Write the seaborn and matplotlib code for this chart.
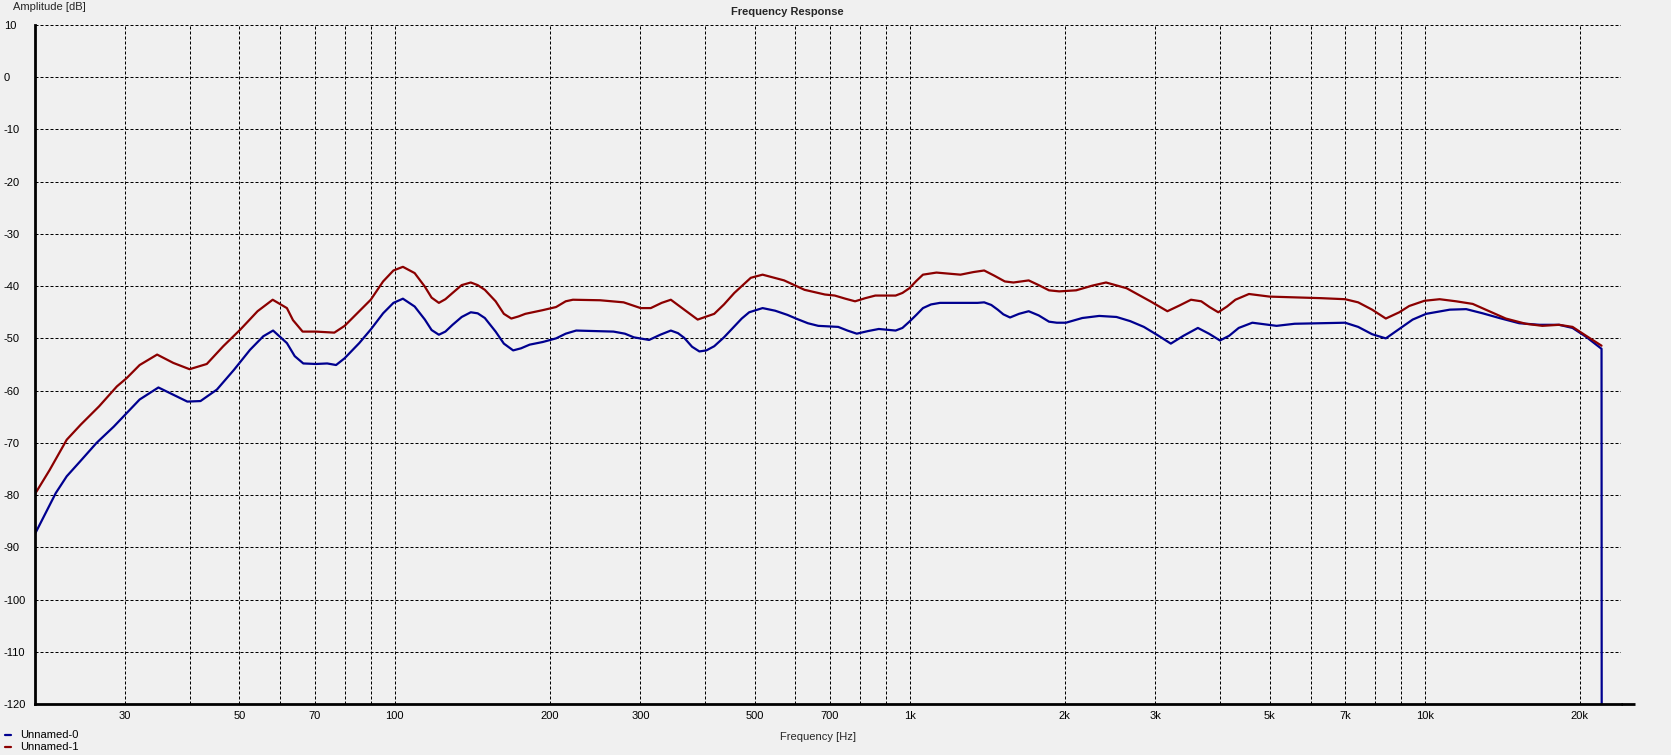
import numpy as np
import pandas as pd
import matplotlib
matplotlib.use("Agg")
import matplotlib.pyplot as plt
import seaborn as sns
from matplotlib.lines import Line2D
from matplotlib.ticker import FixedLocator, NullFormatter

# measured curve, Unnamed-0 (blue)
blue_freq = [20.1, 21.1, 22.0, 23.1, 24.5, 26.4, 28.5, 30.2, 32.0, 34.8, 37.2, 39.6, 42.0, 45.2,
             48.8, 52.4, 55.6, 58.1, 61.8, 64.0, 66.5, 70.4, 74.0, 77.0, 80.0, 85.4, 89.9, 95.0,
             99.5, 103.8, 109.4, 114.5, 118, 121.9, 125.5, 129.6, 135, 140.6, 145, 149.7, 157.1,
             163, 169.9, 176, 182.9, 193.8, 205.8, 214.9, 225.2, 245, 266.1, 280, 291.4, 311.9,
             328, 343.8, 355, 365.0, 378, 390.6, 403, 417.4, 436, 456.6, 472, 488.0, 518.1, 548,
             578.9, 605, 634.4, 664.5, 692.6, 726.3, 757, 789.3, 830, 870.9, 939, 968, 998.5,
             1030, 1061, 1100, 1145, 1250, 1354, 1395, 1440, 1482, 1520, 1566, 1630, 1702, 1780,
             1864, 1930, 2010, 2163, 2333, 2520, 2680, 2848, 3030, 3213, 3400, 3626, 3810, 4002,
             4170, 4352, 4625, 4880, 5154, 5587, 6290, 7003, 7423, 7900, 8400, 8921, 9470, 10060,
             11180, 12030, 12950, 13950, 15250, 16700, 18220, 19350, 20560, 22030, 22050]
blue_db = [-87.2, -83.1, -79.6, -76.4, -73.6, -70.0, -66.9, -64.3, -61.7, -59.4, -60.8, -62.1, -62.0, -59.8,
           -56.0, -52.2, -49.6, -48.5, -50.9, -53.4, -54.8, -54.9, -54.8, -55.1, -53.8, -50.9, -48.3, -45.2,
           -43.2, -42.4, -43.9, -46.4, -48.4, -49.3, -48.7, -47.4, -45.9, -45.0, -45.2, -46.1, -48.7,
           -51.0, -52.3, -51.9, -51.2, -50.7, -50.0, -49.1, -48.5, -48.6, -48.7, -49.1, -49.8, -50.3,
           -49.3, -48.5, -49.0, -49.9, -51.6, -52.5, -52.3, -51.5, -49.8, -47.7, -46.2, -45.0, -44.2, -44.7,
           -45.5, -46.3, -47.1, -47.6, -47.7, -47.8, -48.5, -49.1, -48.6, -48.2, -48.5, -48.0, -46.8,
           -45.5, -44.2, -43.5, -43.2, -43.2, -43.2, -43.1, -43.6, -44.5, -45.4, -46.0, -45.3, -44.8, -45.6,
           -46.8, -47.0, -47.0, -46.1, -45.7, -45.9, -46.7, -47.8, -49.4, -51.0, -49.5, -48.0, -49.1, -50.4,
           -49.5, -48.0, -47.0, -47.3, -47.6, -47.2, -47.1, -47.0, -47.8, -49.2, -50.0, -48.2, -46.4, -45.3,
           -44.5, -44.4, -45.2, -46.1, -47.1, -47.4, -47.4, -48.0, -49.7, -52.0, -140.0]

# measured curve, Unnamed-1 (red)
red_freq = [20.1, 21.4, 23.1, 24.6, 26.7, 28.9, 30.2, 32.0, 34.6, 37.2, 40.0, 43.2, 46.5, 50.2, 54.2,
            58.0, 61.8, 63.5, 66.3, 70.4, 76.4, 80.0, 85.4, 89.9, 95.0, 99.5, 103.8, 109.4, 114.5, 118,
            121.9, 125.5, 129.6, 135, 140.6, 145, 149.7, 157.1, 163, 168.5, 174, 179.4, 193.8, 205.8,
            214.9, 221.9, 250.6, 278.4, 300.4, 314.3, 330, 343.8, 365.0, 387.6, 417.4, 436, 456.6,
            491.5, 518.1, 570.5, 624.9, 684.5, 715.4, 750, 783.3, 820, 857.6, 939, 968, 998.5, 1030,
            1061, 1127, 1255, 1330, 1395, 1460, 1530, 1590, 1702, 1780, 1864, 1951, 2104, 2262, 2405,
            2637, 2932, 3164, 3340, 3516, 3681, 3820, 3972, 4130, 4288, 4556, 4995, 6290, 7003, 7423,
            7900, 8400, 8921, 9325, 9982, 10683, 11500, 12387, 13335, 14360, 15700, 16910, 18220,
            19350, 20560, 22030]
red_db = [-79.6, -75.2, -69.4, -66.5, -63.0, -59.2, -57.6, -55.1, -53.1, -54.7, -55.9, -54.9, -51.5, -48.3, -44.8,
          -42.6, -44.2, -46.5, -48.7, -48.7, -48.9, -47.6, -44.8, -42.6, -39.1, -37.0, -36.3, -37.5, -40.1, -42.2,
          -43.2, -42.5, -41.3, -39.8, -39.3, -39.8, -40.7, -42.9, -45.3, -46.2, -45.8, -45.3, -44.6, -44.0,
          -42.9, -42.6, -42.7, -43.1, -44.2, -44.2, -43.2, -42.6, -44.5, -46.4, -45.3, -43.5, -41.3,
          -38.4, -37.8, -38.9, -40.7, -41.6, -41.8, -42.4, -42.9, -42.3, -41.8, -41.8, -41.3, -40.4, -39.0,
          -37.8, -37.4, -37.8, -37.3, -37.0, -38.0, -39.1, -39.3, -38.9, -39.8, -40.8, -41.0, -40.8, -39.9, -39.3,
          -40.4, -42.9, -44.8, -43.7, -42.6, -42.9, -44.0, -45.0, -43.9, -42.6, -41.5, -42.0, -42.3, -42.5, -43.1,
          -44.5, -46.2, -45.0, -43.8, -42.8, -42.5, -42.9, -43.4, -44.8, -46.2, -47.2, -47.6, -47.4,
          -47.8, -49.5, -51.4]

series_names = ["Unnamed-0", "Unnamed-1"]
palette = {"Unnamed-0": "#00008F", "Unnamed-1": "#8B0000"}

x_major = [30, 50, 70, 100, 200, 300, 500, 700, 1000, 2000, 3000, 5000, 7000, 10000, 20000]
x_labels = ["30", "50", "70", "100", "200", "300", "500", "700", "1k", "2k", "3k", "5k", "7k", "10k", "20k"]
x_minor = [40, 60, 80, 90, 400, 600, 800, 900, 4000, 6000, 8000, 9000]
y_ticks = list(range(-120, 11, 10))
y_labels = [str(v) for v in y_ticks]

BG = "#F0F0F0"
W, H = 1671, 755

sns.set_style("white")
plt.rcParams['font.family'] = ['Liberation Sans', 'DejaVu Sans']
plt.rcParams['font.size'] = 8

df = pd.concat([
    pd.DataFrame({"freq": blue_freq, "db": blue_db, "series": series_names[0]}),
    pd.DataFrame({"freq": red_freq, "db": red_db, "series": series_names[1]}),
], ignore_index=True)

fig = plt.figure(figsize=(W / 100, H / 100), dpi=100, facecolor=BG)
ax = fig.add_axes([34.5 / W, 1 - 704 / H, (1620.7 - 34.5) / W, (704 - 25) / H])
ax.set_facecolor(BG)

sns.lineplot(data=df, x="freq", y="db", hue="series", palette=palette, estimator=None,
             sort=False, lw=1.6, legend=False, ax=ax)

ax.set_xscale("log")
ax.set_xlim(20, 24000)
ax.set_ylim(-120, 10)
ax.xaxis.set_major_locator(FixedLocator(x_major))
ax.set_xticklabels(x_labels)
ax.xaxis.set_minor_locator(FixedLocator(x_minor))
ax.xaxis.set_minor_formatter(NullFormatter())
ax.set_yticks(y_ticks)
ax.set_yticklabels(y_labels)
ax.set_xlabel("")
ax.set_ylabel("")

dash = (0, (3, 2))
ax.grid(which="both", axis="x", color="black", lw=0.72, ls=dash)
ax.grid(which="major", axis="y", color="black", lw=0.72, ls=dash)
ax.set_axisbelow(True)

ax.tick_params(axis="x", which="both", direction="out", length=5, width=0.72, color="black",
               pad=0, labelsize=8, labelcolor="black")
ax.tick_params(axis="y", length=0, pad=22, labelsize=8, labelcolor="black")
for lab in ax.get_yticklabels():
    lab.set_horizontalalignment("left")

for s in ["top", "right"]:
    ax.spines[s].set_visible(False)
for s in ["left", "bottom"]:
    ax.spines[s].set_color("black")
    ax.spines[s].set_linewidth(2)
# bottom axis line runs a little past the plot area
ax.plot([1, 1.009], [0, 0], transform=ax.transAxes, clip_on=False, color="black", lw=2,
        solid_capstyle="butt")

fig.text(787 / W, 1 - 12 / H, "Frequency Response", ha="center", va="center",
         fontsize=8, fontweight="bold")
fig.text(13 / W, 1 - 7 / H, "Amplitude [dB]", ha="left", va="center", fontsize=8)
fig.text(818 / W, 1 - 737 / H, "Frequency [Hz]", ha="center", va="center", fontsize=8)

# legend, bottom left
for i, name in enumerate(series_names):
    yy = 1 - (735 + 12.3 * i) / H
    fig.add_artist(Line2D([5 / W, 10.5 / W], [yy, yy], transform=fig.transFigure,
                          color=palette[name], lw=1.6))
    fig.text(20 / W, yy, name, ha="left", va="center", fontsize=8, color="black")

fig.savefig("out.png", dpi=100, facecolor=BG)
